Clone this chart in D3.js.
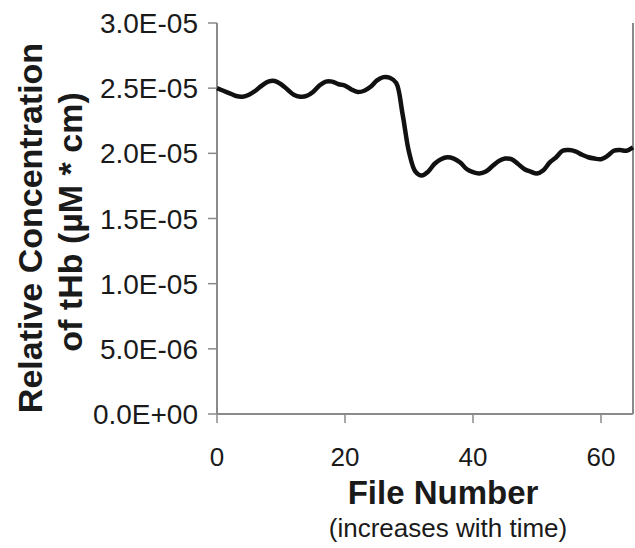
<!DOCTYPE html>
<html>
<head>
<meta charset="utf-8">
<script src="https://cdn.jsdelivr.net/npm/d3@7"></script>
<style>
  body { margin: 0; background: #fff; }
  svg { display: block; font-family: Arial, 'Liberation Sans', sans-serif; }
</style>
</head>
<body>
<svg id="chart" width="635" height="548"></svg>
<script>
// file number 0..65, tHb values
const fileNumbers = d3.range(0, 66);
const tHb = [
  2.50e-5, 2.48e-5, 2.46e-5, 2.44e-5, 2.435e-5, 2.45e-5, 2.48e-5, 2.52e-5, 2.55e-5, 2.555e-5,
  2.53e-5, 2.49e-5, 2.45e-5, 2.435e-5, 2.44e-5, 2.47e-5, 2.52e-5, 2.55e-5, 2.55e-5, 2.53e-5,
  2.52e-5, 2.49e-5, 2.47e-5, 2.48e-5, 2.51e-5, 2.56e-5, 2.585e-5, 2.58e-5, 2.54e-5, 2.30e-5,
  2.01e-5, 1.86e-5, 1.83e-5, 1.86e-5, 1.92e-5, 1.955e-5, 1.97e-5, 1.96e-5, 1.93e-5, 1.88e-5,
  1.855e-5, 1.845e-5, 1.86e-5, 1.90e-5, 1.94e-5, 1.96e-5, 1.955e-5, 1.92e-5, 1.88e-5, 1.86e-5,
  1.845e-5, 1.87e-5, 1.93e-5, 1.97e-5, 2.02e-5, 2.025e-5, 2.015e-5, 1.99e-5, 1.97e-5, 1.96e-5,
  1.955e-5, 1.98e-5, 2.02e-5, 2.025e-5, 2.02e-5, 2.045e-5
];
const xTicks = [0, 20, 40, 60];
const yTicks = [0, 5e-6, 1e-5, 1.5e-5, 2e-5, 2.5e-5, 3e-5];
const yTickLabels = ['0.0E+00', '5.0E-06', '1.0E-05', '1.5E-05', '2.0E-05', '2.5E-05', '3.0E-05'];

const svg = d3.select('#chart');
const plotLeft = 217, plotRight = 633, plotTop = 23, plotBottom = 414;
const axisColor = '#8a8a8a';

const x = d3.scaleLinear().domain([0, 65]).range([plotLeft, plotRight]);
const y = d3.scaleLinear().domain([0, 3e-5]).range([plotBottom, plotTop]);

// frame: left, bottom, right
svg.append('line')
  .attr('x1', plotLeft).attr('x2', plotLeft).attr('y1', plotTop).attr('y2', plotBottom)
  .attr('stroke', axisColor).attr('stroke-width', 2);
svg.append('line')
  .attr('x1', plotLeft).attr('x2', plotRight).attr('y1', plotBottom).attr('y2', plotBottom)
  .attr('stroke', axisColor).attr('stroke-width', 2);
svg.append('line')
  .attr('x1', plotRight).attr('x2', plotRight).attr('y1', plotTop).attr('y2', plotBottom)
  .attr('stroke', axisColor).attr('stroke-width', 2);

// y ticks
svg.selectAll('.ytick')
  .data(yTicks)
  .enter()
  .append('line')
  .attr('class', 'ytick')
  .attr('x1', plotLeft - 9).attr('x2', plotLeft)
  .attr('y1', d => y(d)).attr('y2', d => y(d))
  .attr('stroke', axisColor).attr('stroke-width', 1.5);

svg.selectAll('.ylabel')
  .data(yTicks)
  .enter()
  .append('text')
  .attr('class', 'ylabel')
  .attr('x', 198)
  .attr('y', d => y(d))
  .attr('dy', '0.36em')
  .attr('text-anchor', 'end')
  .attr('font-size', '28px')
  .attr('fill', '#1a1a1a')
  .text((d, i) => yTickLabels[i]);

// x ticks
svg.selectAll('.xtick')
  .data(xTicks)
  .enter()
  .append('line')
  .attr('class', 'xtick')
  .attr('x1', d => x(d)).attr('x2', d => x(d))
  .attr('y1', plotBottom).attr('y2', plotBottom + 9)
  .attr('stroke', axisColor).attr('stroke-width', 1.5);

svg.selectAll('.xlabel')
  .data(xTicks)
  .enter()
  .append('text')
  .attr('class', 'xlabel')
  .attr('x', d => x(d))
  .attr('y', 466)
  .attr('text-anchor', 'middle')
  .attr('font-size', '26px')
  .attr('fill', '#1a1a1a')
  .text(d => d);

// data line
const line = d3.line()
  .x((d, i) => x(fileNumbers[i]))
  .y(d => y(d))
  .curve(d3.curveCatmullRom);

svg.append('path')
  .datum(tHb)
  .attr('d', line)
  .attr('fill', 'none')
  .attr('stroke', '#111')
  .attr('stroke-width', 4.5)
  .attr('stroke-linejoin', 'round');

// axis titles
svg.append('text')
  .attr('x', 443).attr('y', 504)
  .attr('text-anchor', 'middle')
  .attr('font-size', '33px')
  .attr('font-weight', 'bold')
  .attr('fill', '#1a1a1a')
  .text('File Number');

svg.append('text')
  .attr('x', 448).attr('y', 537)
  .attr('text-anchor', 'middle')
  .attr('font-size', '26px')
  .attr('fill', '#1a1a1a')
  .text('(increases with time)');

svg.append('text')
  .attr('transform', 'translate(42,228) rotate(-90)')
  .attr('text-anchor', 'middle')
  .attr('font-size', '34px')
  .attr('font-weight', 'bold')
  .attr('fill', '#1a1a1a')
  .text('Relative Concentration');

svg.append('text')
  .attr('transform', 'translate(82,222) rotate(-90)')
  .attr('text-anchor', 'middle')
  .attr('font-size', '34px')
  .attr('font-weight', 'bold')
  .attr('fill', '#1a1a1a')
  .text('of tHb (µM * cm)');
</script>
</body>
</html>
